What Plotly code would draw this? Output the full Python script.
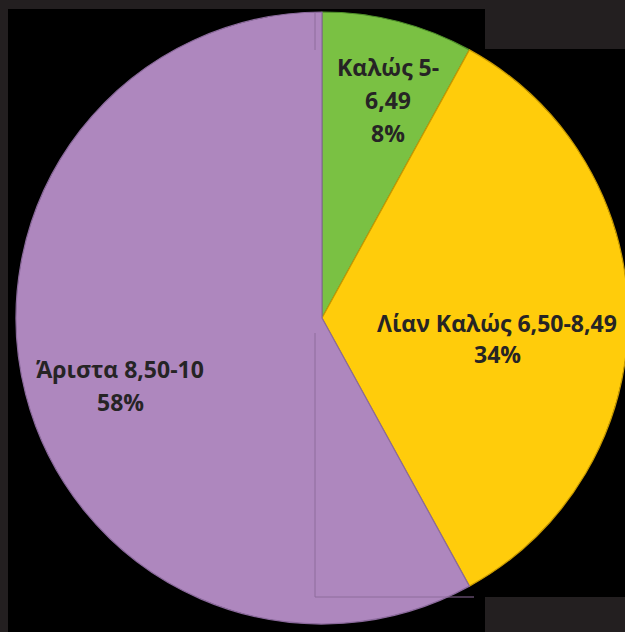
import plotly.graph_objects as go

# ---- data ----
labels = ["Καλώς 5-6,49", "Λίαν Καλώς 6,50-8,49", "Άριστα 8,50-10"]
values = [8, 34, 58]
label_lines = [["Καλώς 5-", "6,49"], ["Λίαν Καλώς 6,50-8,49"], ["Άριστα 8,50-10"]]
colors = ["#7AC143", "#FFCC0B", "#AE87BE"]
edge_colors = ["#4F8F2A", "#C99A00", "#8B6A9C"]

# figure is slightly wider than the window so the pie can run past the right edge
W, H = 632, 632
FRAME = "#231F20"
TEXT = "#262425"
CX, CY, R = 322, 318, 306


def px(x):
    return x / W


def py(y):
    return 1 - y / H


fig = go.Figure()
fig.add_trace(go.Pie(
    labels=labels, values=values, sort=False, direction="clockwise", rotation=0,
    marker=dict(colors=colors, line=dict(color=edge_colors, width=1.2)),
    textinfo="none", hoverinfo="label+percent", showlegend=False,
    domain=dict(x=[px(CX - R), px(CX + R)], y=[py(CY + R), py(CY - R)]),
))

# label placement (pixel centres of the first line and line step)
anchors = [(388, 67, 33), (497, 323, 31), (120, 369, 33)]
total = sum(values)
annotations = []
for lines, v, (ax, ay, step) in zip(label_lines, values, anchors):
    all_lines = lines + [f"{round(v / total * 100)}%"]
    for i, t in enumerate(all_lines):
        annotations.append(dict(
            x=px(ax), y=py(ay + i * step), xref="paper", yref="paper",
            text=f"<b>{t}</b>", showarrow=False, xanchor="center", yanchor="middle",
            font=dict(family="Open Sans", size=23, color=TEXT),
        ))

shapes = [
    # dark frame pieces
    dict(type="rect", xref="paper", yref="paper", x0=0, x1=1, y0=py(9), y1=1,
         fillcolor=FRAME, line=dict(width=0), layer="below"),
    dict(type="rect", xref="paper", yref="paper", x0=0, x1=px(8), y0=0, y1=1,
         fillcolor=FRAME, line=dict(width=0), layer="below"),
    dict(type="rect", xref="paper", yref="paper", x0=px(485), x1=1, y0=py(49), y1=1,
         fillcolor=FRAME, line=dict(width=0), layer="below"),
    dict(type="rect", xref="paper", yref="paper", x0=px(485), x1=1, y0=0, y1=py(597),
         fillcolor=FRAME, line=dict(width=0), layer="below"),
    # faint crop lines on the purple slice
    dict(type="line", xref="paper", yref="paper", x0=px(315), x1=px(315), y0=py(12), y1=py(50),
         line=dict(color="#8E6D9C", width=1)),
    dict(type="line", xref="paper", yref="paper", x0=px(315), x1=px(315), y0=py(333), y1=py(597),
         line=dict(color="#8E6D9C", width=1)),
    dict(type="line", xref="paper", yref="paper", x0=px(315), x1=px(474), y0=py(597), y1=py(597),
         line=dict(color="#8E6D9C", width=1)),
]

fig.update_layout(
    width=W, height=H, margin=dict(l=0, r=0, t=0, b=0),
    paper_bgcolor="#000000", plot_bgcolor="#000000",
    annotations=annotations, shapes=shapes,
)

fig.write_html(
    "out.html",
    config={"displayModeBar": False},
    post_script=(
        "document.body.style.margin='0';"
        "document.body.style.overflow='hidden';"
        "document.body.style.background='#000';"
    ),
)
